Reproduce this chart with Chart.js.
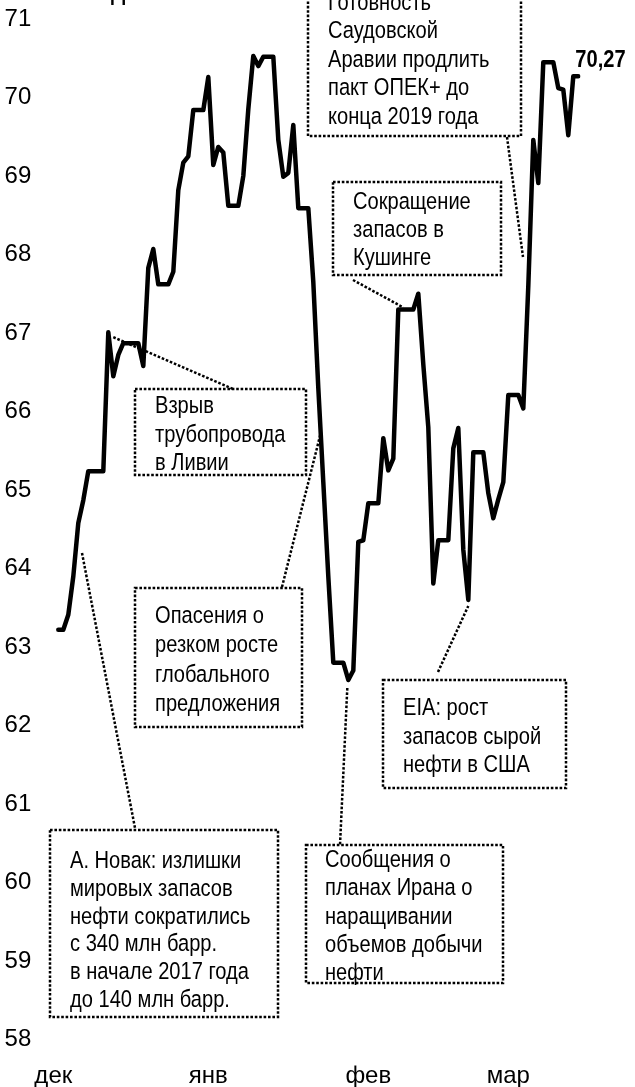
<!DOCTYPE html>
<html lang="ru">
<head>
<meta charset="utf-8">
<title>Brent</title>
<script src="https://cdn.jsdelivr.net/npm/chart.js@4.4.1/dist/chart.umd.min.js"></script>
<style>
  html, body { margin: 0; padding: 0; background: #fff; }
  #oilChart { display: block; }
</style>
</head>
<body>
<canvas id="oilChart" width="635" height="1087"></canvas>
<script>
// daily values, weekends and holidays carry the previous close
const firstDay = new Date(2017, 11, 15);
const decPrices = [null, 63.22, 63.22, 63.41, 63.90, 64.58, 64.87, 65.24, 65.24, 65.24, 65.24,
  67.01, 66.45, 66.72, 66.87, 66.87, 66.87];
const janPrices = [66.87, 66.58, 67.83, 68.07, 67.62, 67.62, 67.62, 67.78, 68.82, 69.17, 69.25,
  69.84, 69.84, 69.84, 70.26, 69.14, 69.37, 69.30, 68.62, 68.62, 68.62, 69.00, 69.85, 70.53,
  70.40, 70.52, 70.52, 70.52, 69.46, 68.99, 69.04];
const febPrices = [69.65, 68.59, 68.59, 68.59, 67.65, 66.30, 65.10, 63.90, 62.80, 62.80, 62.80,
  62.58, 62.70, 64.34, 64.36, 64.83, 64.83, 64.83, 65.66, 65.25, 65.40, 67.30, 67.30, 67.30,
  67.30, 67.50, 66.60, 65.80];
const marPrices = [63.81, 64.36, 64.36, 64.36, 65.53, 65.79, 64.24, 63.60, 65.48, 65.48, 65.48,
  64.96, 64.64, 64.88, 65.10, 66.21, 66.21, 66.21, 66.04, 67.60, 69.46, 68.91, 70.45, 70.45,
  70.45, 70.12, 70.10, 69.52, 70.27, 70.27];

const monthNames = ["дек", "янв", "фев", "мар"];
const monthTickDates = ["15.12.2017", "15.01.2018", "16.02.2018", "16.03.2018"];
const yTicks = { min: 58, max: 71, step: 1 };
const lastValueText = "70,27";

const prices = [...decPrices, ...janPrices, ...febPrices, ...marPrices];
const days = prices.map((_, i) => {
  const d = new Date(firstDay);
  d.setDate(d.getDate() + i);
  const dd = String(d.getDate()).padStart(2, "0");
  const mm = String(d.getMonth() + 1).padStart(2, "0");
  return `${dd}.${mm}.${d.getFullYear()}`;
});

const narrowOk = hasFont("Liberation Sans Narrow");
const FAMILY = narrowOk
  ? '"Liberation Sans Narrow", "Liberation Sans", Arial, sans-serif'
  : '"Liberation Sans", Arial, sans-serif';
const TEXT_SCALE = narrowOk ? 1 : 0.82;
const NOTE_SIZE = 24.5;
const TICK_SIZE = 24;

// annotation boxes: [left, top, right, bottom], text x, first baseline, line step
const notes = [
  { box: [308, -10, 521, 136], tx: 328, ty: 9.5, step: 28.6,
    lines: ["Готовность", "Саудовской", "Аравии продлить", "пакт ОПЕК+ до", "конца 2019 года"] },
  { box: [333, 182, 501, 275], tx: 353, ty: 209, step: 28,
    lines: ["Сокращение", "запасов в", "Кушинге"] },
  { box: [135, 389, 306, 475], tx: 155, ty: 413, step: 28.5,
    lines: ["Взрыв", "трубопровода", "в Ливии"] },
  { box: [135, 588, 302, 727], tx: 155, ty: 623, step: 29.3,
    lines: ["Опасения о", "резком росте", "глобального", "предложения"] },
  { box: [383, 680, 566, 788], tx: 403, ty: 715, step: 28.5,
    lines: ["EIA: рост", "запасов сырой", "нефти в США"] },
  { box: [50, 830, 278, 1017], tx: 70, ty: 868, step: 27.8,
    lines: ["А. Новак: излишки", "мировых запасов", "нефти сократились", "с 340 млн барр.",
      "в начале 2017 года", "до 140 млн барр."] },
  { box: [306, 845, 503, 983], tx: 325, ty: 867, step: 28.3,
    lines: ["Сообщения о", "планах Ирана о", "наращивании", "объемов добычи", "нефти"] }
];

// leader lines: a point is either [x, y] in pixels or {i, dx, dy} tied to a data point
const leaders = [
  [[507, 137], [523, 257]],
  [[353, 280], { i: 70, dx: 0, dy: -2 }],
  [{ i: 11, dx: 5, dy: 5 }, [233, 389]],
  [[282, 587], [321, 432]],
  [[438, 672], { i: 83, dx: 0, dy: 6 }],
  [[82, 553], [135, 828]],
  [{ i: 59, dx: -1, dy: 8 }, [340, 845]]
];

const annotationPlugin = {
  id: "notes",
  afterDatasetsDraw(chart) {
    const { ctx, scales } = chart;
    const toPx = (p) => Array.isArray(p)
      ? p
      : [scales.x.getPixelForValue(p.i) + p.dx, scales.y.getPixelForValue(prices[p.i]) + p.dy];

    ctx.save();
    ctx.strokeStyle = "#000";
    ctx.lineWidth = 2.5;
    ctx.setLineDash([2.6, 1.8]);
    ctx.lineCap = "butt";

    notes.forEach((n) => {
      const [l, t, r, b] = n.box;
      ctx.strokeRect(l, t, r - l, b - t);
    });
    leaders.forEach(([a, b]) => {
      const p1 = toPx(a);
      const p2 = toPx(b);
      ctx.beginPath();
      ctx.moveTo(p1[0], p1[1]);
      ctx.lineTo(p2[0], p2[1]);
      ctx.stroke();
    });
    ctx.setLineDash([]);

    ctx.fillStyle = "#000";
    ctx.textBaseline = "alphabetic";
    ctx.textAlign = "left";
    ctx.font = `${NOTE_SIZE}px ${FAMILY}`;
    notes.forEach((n) => {
      n.lines.forEach((line, k) => drawText(ctx, line, n.tx, n.ty + k * n.step));
    });

    // last value and the cut title at the top edge
    const lastIdx = prices.length - 1;
    const lx = scales.x.getPixelForValue(lastIdx);
    const ly = scales.y.getPixelForValue(prices[lastIdx]);
    ctx.font = `bold ${NOTE_SIZE}px ${FAMILY}`;
    drawText(ctx, lastValueText, lx - 3, ly - 9);
    drawText(ctx, "Динамика", 111, -0.5);
    ctx.restore();
  }
};

function drawText(ctx, text, x, y) {
  ctx.save();
  ctx.translate(x, y);
  ctx.scale(TEXT_SCALE, 1);
  ctx.fillText(text, 0, 0);
  ctx.restore();
}

function hasFont(name) {
  const c = document.createElement("canvas").getContext("2d");
  const sample = "Взрыв трубопровода 0123";
  c.font = "40px monospace";
  const base = c.measureText(sample).width;
  c.font = `40px "${name}", monospace`;
  return c.measureText(sample).width !== base;
}

new Chart(document.getElementById("oilChart"), {
  type: "line",
  data: {
    labels: days,
    datasets: [
      {
        data: prices,
        borderColor: "#000",
        borderWidth: 4.5,
        borderCapStyle: "round",
        borderJoinStyle: "round",
        pointRadius: 0,
        tension: 0,
        fill: false
      }
    ]
  },
  options: {
    responsive: false,
    animation: false,
    layout: { padding: { top: 19, right: 56.7, bottom: 0, left: 0 } },
    plugins: {
      legend: { display: false },
      tooltip: { enabled: false }
    },
    scales: {
      x: {
        type: "category",
        offset: false,
        grid: { display: false, drawTicks: false },
        border: { display: false },
        ticks: {
          autoSkip: false,
          maxRotation: 0,
          minRotation: 0,
          padding: 22,
          color: "#000",
          font: { family: FAMILY, size: TICK_SIZE },
          callback(value) {
            const k = monthTickDates.indexOf(this.getLabelForValue(value));
            return k >= 0 ? monthNames[k] : "";
          }
        },
        afterBuildTicks(scale) {
          scale.ticks = scale.ticks.filter((t) => monthTickDates.includes(days[t.value]));
        },
        afterFit(scale) {
          scale.height = 47.5;
          scale.paddingLeft = 0;
          scale.paddingRight = 0;
        }
      },
      y: {
        min: yTicks.min,
        max: yTicks.max,
        grid: { display: false, drawTicks: false },
        border: { display: false },
        ticks: {
          stepSize: yTicks.step,
          padding: 22,
          color: "#000",
          font: { family: FAMILY, size: TICK_SIZE }
        },
        afterFit(scale) {
          scale.width = 53.3;
          scale.paddingTop = 0;
          scale.paddingBottom = 0;
        }
      }
    }
  },
  plugins: [annotationPlugin]
});
</script>
</body>
</html>
